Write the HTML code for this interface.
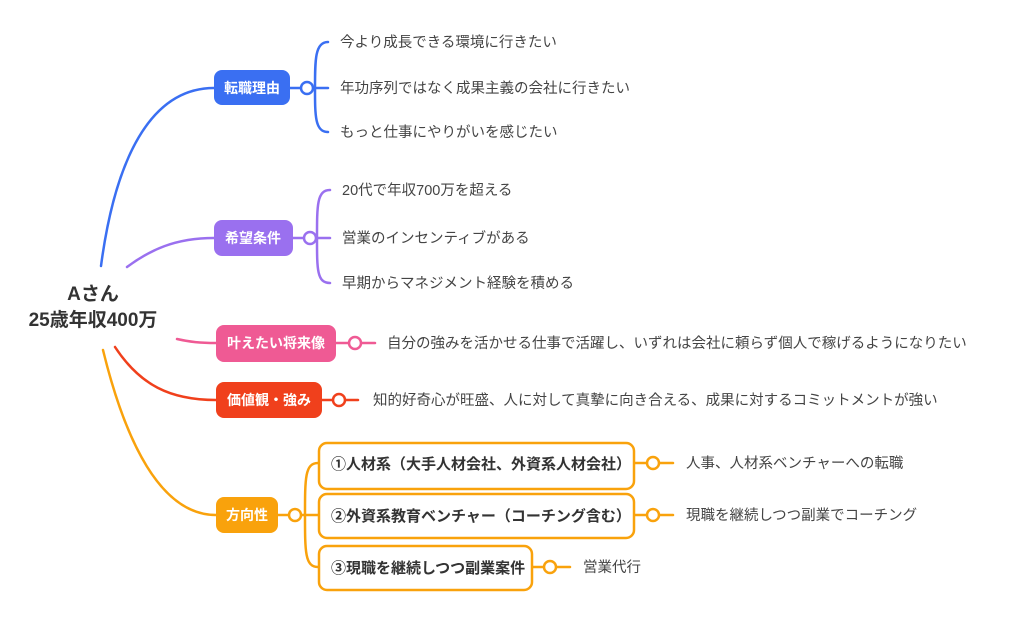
<!DOCTYPE html>
<html><head><meta charset="utf-8"><style>
html,body{margin:0;padding:0;background:#fff;}
svg{display:block;}
text{font-family:"Liberation Sans","Noto Sans CJK JP",sans-serif;}
.t{font-size:14.5px;fill:#444;}
.n{font-size:14px;fill:#fff;font-weight:bold;}
.b{font-size:15px;fill:#333;font-weight:bold;}
</style></head><body>
<svg width="1020" height="624" viewBox="0 0 1020 624" xmlns="http://www.w3.org/2000/svg">
<g fill="none" stroke-width="2.5" stroke-linecap="round">
<path d="M101 266 C115 160 150 88 214 88" stroke="#3a6ff2"/>
<path d="M290 88 H301 M313 88 H328 M315 88 C315 60 315 42 328 42 M315 88 C315 116 315 132 328 132" stroke="#3a6ff2"/>
<path d="M127 267 C150 250 175 238 214 238" stroke="#9a70ef"/>
<path d="M293 238 H304 M316 238 H330 M317 238 C317 205 317 190 330 190 M317 238 C317 270 317 283 330 283" stroke="#9a70ef"/>
<path d="M177 339 C190 342 200 343 216 343" stroke="#ef5a94"/>
<path d="M336 343 H348 M361 343 H375" stroke="#ef5a94"/>
<path d="M115 347 C140 385 170 400 216 400" stroke="#f0401c"/>
<path d="M322 400 H332 M346 400 H358" stroke="#f0401c"/>
<path d="M103 350 C125 440 160 515 216 515" stroke="#f9a20c"/>
<path d="M278 515 H289 M301 515 H318 M305 515 C305 478 305 463 318 463 M305 515 C305 552 305 567 318 567" stroke="#f9a20c"/>
<path d="M634 463 H646 M659 463 H673 M634 515 H646 M659 515 H673 M532 567 H544 M557 567 H570" stroke="#f9a20c"/>
</g>
<g fill="#fff" stroke-width="2.5">
<circle cx="307" cy="88" r="6" stroke="#3a6ff2"/>
<circle cx="310" cy="238" r="6" stroke="#9a70ef"/>
<circle cx="355" cy="343" r="6" stroke="#ef5a94"/>
<circle cx="339" cy="400" r="6" stroke="#f0401c"/>
<circle cx="295" cy="515" r="6" stroke="#f9a20c"/>
<circle cx="653" cy="463" r="6" stroke="#f9a20c"/>
<circle cx="653" cy="515" r="6" stroke="#f9a20c"/>
<circle cx="550" cy="567" r="6" stroke="#f9a20c"/>
</g>
<rect x="214" y="70" width="76" height="35" rx="8" fill="#3a6ff2"/>
<rect x="214" y="220" width="79" height="36" rx="8" fill="#9a70ef"/>
<rect x="216" y="325" width="120" height="37" rx="8" fill="#ef5a94"/>
<rect x="216" y="382" width="106" height="36" rx="8" fill="#f0401c"/>
<rect x="216" y="497" width="62" height="36" rx="8" fill="#f9a20c"/>
<g fill="#fff" stroke="#f9a20c" stroke-width="2.5">
<rect x="319" y="443" width="315" height="46" rx="8"/>
<rect x="319" y="494" width="315" height="44" rx="8"/>
<rect x="319" y="546" width="213" height="44" rx="8"/>
</g>
<text x="93" y="300" text-anchor="middle" style="font-size:19px;font-weight:bold;fill:#333">Aさん</text>
<text x="93" y="326" text-anchor="middle" style="font-size:19px;font-weight:bold;fill:#333">25歳年収400万</text>
<text class="n" x="252" y="93" text-anchor="middle">転職理由</text>
<text class="n" x="253" y="243" text-anchor="middle">希望条件</text>
<text class="n" x="276" y="348" text-anchor="middle">叶えたい将来像</text>
<text class="n" x="269" y="405" text-anchor="middle">価値観・強み</text>
<text class="n" x="247" y="520" text-anchor="middle">方向性</text>
<text class="t" x="340" y="47">今より成長できる環境に行きたい</text>
<text class="t" x="340" y="93">年功序列ではなく成果主義の会社に行きたい</text>
<text class="t" x="340" y="137">もっと仕事にやりがいを感じたい</text>
<text class="t" x="342" y="195">20代で年収700万を超える</text>
<text class="t" x="342" y="243">営業のインセンティブがある</text>
<text class="t" x="342" y="288">早期からマネジメント経験を積める</text>
<text class="t" x="387" y="348">自分の強みを活かせる仕事で活躍し、いずれは会社に頼らず個人で稼げるようになりたい</text>
<text class="t" x="373" y="405">知的好奇心が旺盛、人に対して真摯に向き合える、成果に対するコミットメントが強い</text>
<text class="b" x="331" y="469">①人材系（大手人材会社、外資系人材会社）</text>
<text class="b" x="331" y="521">②外資系教育ベンチャー（コーチング含む）</text>
<text class="b" x="331" y="573">③現職を継続しつつ副業案件</text>
<text class="t" x="686" y="468">人事、人材系ベンチャーへの転職</text>
<text class="t" x="686" y="520">現職を継続しつつ副業でコーチング</text>
<text class="t" x="583" y="572">営業代行</text>
</svg>
</body></html>
